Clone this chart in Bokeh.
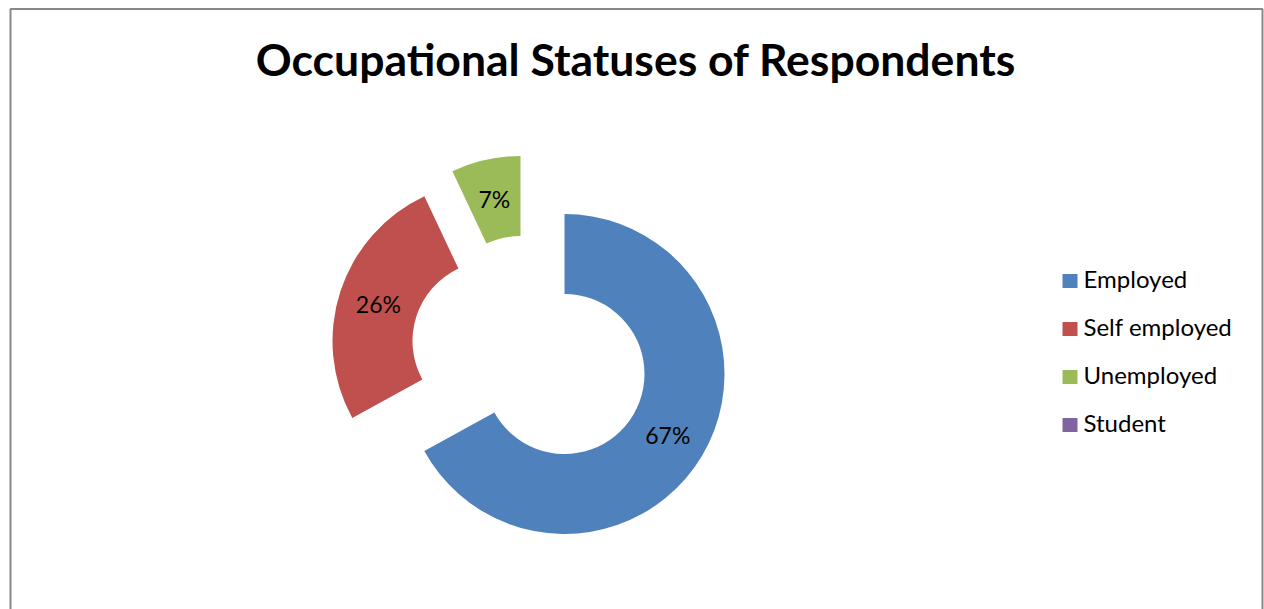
import math
from bokeh.plotting import figure
from bokeh.models import Range1d, ColumnDataSource
from bokeh.core.properties import value
from bokeh.embed import file_html
from bokeh.resources import INLINE

# ---- data ----
title_text = "Occupational Statuses of Respondents"
categories = ["Employed", "Self employed", "Unemployed", "Student"]
percents = [67, 26, 7, 0]

# ---- style ----
colors = ["#4F81BD", "#C0504D", "#9BBB59", "#8064A2"]
explode = [(0, 0), (-72, 33), (-44, 58), (0, 0)]  # pixel offsets of exploded slices
FONT = "Lato"

W, H = 1264, 609
cx, cy = 564, 609 - 373.5
R_out, R_in = 160, 80

p = figure(width=W, height=H, output_backend="svg", toolbar_location=None,
           x_range=Range1d(0, W), y_range=Range1d(0, H), min_border=0)
p.axis.visible = False
p.grid.visible = False
p.outline_line_color = None
p.background_fill_color = "white"
p.border_fill_color = "white"

# chart border
p.line([10, 10, 1262, 1262], [-10, H - 8.5, H - 8.5, -10], line_color="#888888", line_width=2)

total = sum(percents)
xs, ys, sa, ea, cols, lx, ly, ltxt = [], [], [], [], [], [], [], []
cum = 0
for cat, v, c, (dx, dy) in zip(categories, percents, colors, explode):
    t1 = 2 * math.pi * cum / total
    cum += v
    t2 = 2 * math.pi * cum / total
    if v <= 0:
        continue
    xs.append(cx + dx)
    ys.append(cy + dy)
    sa.append(math.pi / 2 - t1)
    ea.append(math.pi / 2 - t2)
    cols.append(c)
    tm = (t1 + t2) / 2
    rm = (R_out + R_in) / 2
    lx.append(cx + dx + rm * math.sin(tm))
    ly.append(cy + dy + rm * math.cos(tm))
    ltxt.append(f"{v}%")

src = ColumnDataSource(dict(x=xs, y=ys, sa=sa, ea=ea, c=cols))
p.annular_wedge(x="x", y="y", inner_radius=R_in, outer_radius=R_out,
                start_angle="sa", end_angle="ea", direction="clock",
                fill_color="c", line_color=None, source=src)

p.text(x=lx, y=ly, text=ltxt, text_font=value(FONT), text_font_size="23px",
       text_align="center", text_baseline="middle", text_color="black")

# title
p.text(x=[635.5], y=[H - 58], text=[title_text], text_font=value(FONT),
       text_font_size="44.5px", text_font_style="bold", text_align="center",
       text_baseline="middle", text_color="black")

# legend
leg_x_sq = 1069.5
leg_x_txt = 1083
leg_mid0 = 280.5
step = 48
for i, (cat, c) in enumerate(zip(categories, colors)):
    ym = H - (leg_mid0 + i * step)
    p.rect(x=[leg_x_sq], y=[ym], width=15, height=14, fill_color=c, line_color=None)
    p.text(x=[leg_x_txt], y=[ym + 2.5], text=[cat], text_font=value(FONT), text_font_size="24px",
           text_align="left", text_baseline="middle", text_color="black")

open("out.html", "w").write(file_html(p, INLINE))
